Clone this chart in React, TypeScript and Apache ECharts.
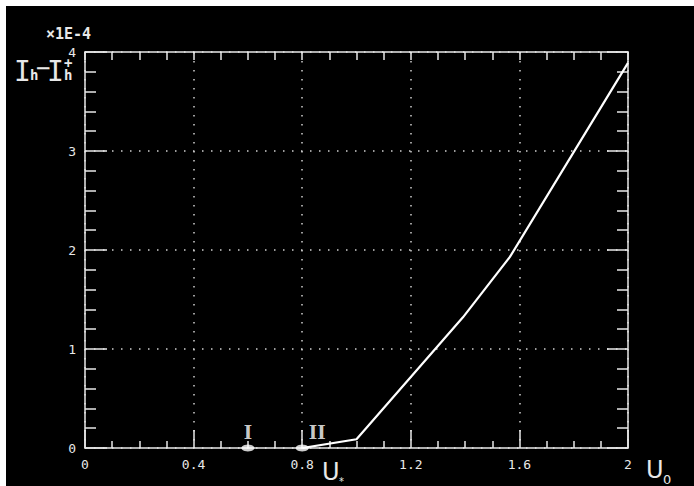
import React, { useEffect, useRef } from "react";
import * as echarts from "echarts";

const curveU = [0.8, 1.0, 1.392, 1.565, 2.0];
const curveI = [0, 0.088, 1.32, 1.93, 3.89];
const pointU = [0.6, 0.8];
const pointI = [0, 0];
const pointNames = ["I", "II"];
const xTickLabels = ["0", "0.4", "0.8", "1.2", "1.6", "2"];
const yTickLabels = ["0", "1", "2", "3", "4"];

const FG = "#e8e8e8";
const MONO = "DejaVu Sans Mono";

export default function App() {
  const ref = useRef<HTMLDivElement>(null);
  useEffect(() => {
    if (!ref.current) return;
    const chart = echarts.init(ref.current, null, { renderer: "svg" });
    const xLabel = (v: number) => {
      const i = Math.round(v / 0.4);
      return Math.abs(v - i * 0.4) < 1e-6 ? xTickLabels[i] ?? "" : "";
    };
    const yLabel = (v: number) => yTickLabels[Math.round(v)] ?? "";
    const dotted = { color: "#d0d0d0", width: 1.5, type: [1.5, 7.5] as any };
    chart.setOption({
      animation: false,
      backgroundColor: "#000",
      grid: { left: 79, top: 46, width: 543, height: 396 },
      xAxis: [
        {
          type: "value", position: "bottom", min: 0, max: 2, interval: 0.4,
          axisLine: { onZero: false, lineStyle: { color: FG, width: 1.5 } },
          axisTick: { inside: true, length: 18, lineStyle: { color: FG, width: 1.5 } },
          minorTick: { show: true, splitNumber: 4, length: 7, lineStyle: { color: FG, width: 1.5 } },
          axisLabel: { formatter: xLabel, color: FG, fontFamily: MONO, fontSize: 13, margin: 10 },
          splitLine: { show: true, lineStyle: dotted },
        },
        {
          type: "value", position: "top", min: 0, max: 2, interval: 0.1,
          axisLine: { onZero: false, lineStyle: { color: FG, width: 1.5 } },
          axisTick: { inside: true, length: 8, lineStyle: { color: FG, width: 1.5 } },
          axisLabel: { show: false },
          splitLine: { show: false },
        },
      ],
      yAxis: [
        {
          type: "value", position: "left", min: 0, max: 4, interval: 1,
          axisLine: { show: true, onZero: false, lineStyle: { color: FG, width: 1.5 } },
          axisTick: { show: true, inside: true, length: 22, lineStyle: { color: FG, width: 1.5 } },
          minorTick: { show: true, splitNumber: 5, length: 11, lineStyle: { color: FG, width: 1.5 } },
          axisLabel: { formatter: yLabel, color: FG, fontFamily: MONO, fontSize: 13, margin: 9 },
          splitLine: { show: true, lineStyle: dotted },
        },
        {
          type: "value", position: "right", min: 0, max: 4, interval: 1,
          axisLine: { show: true, onZero: false, lineStyle: { color: FG, width: 1.5 } },
          axisTick: { show: true, inside: true, length: 21, lineStyle: { color: FG, width: 1.5 } },
          minorTick: { show: true, splitNumber: 5, length: 11, lineStyle: { color: FG, width: 1.5 } },
          axisLabel: { show: false },
          splitLine: { show: false },
        },
      ],
      series: [
        {
          type: "line",
          data: curveU.map((u, i) => [u, curveI[i]]),
          showSymbol: false,
          lineStyle: { color: "#fff", width: 2.2 },
        },
        {
          type: "scatter",
          data: pointU.map((u, i) => ({
            value: [u, pointI[i]],
            name: pointNames[i],
            label: { offset: i === 1 ? [15, 0] : [0, 0] },
          })),
          symbol: "circle",
          symbolSize: [13, 7],
          itemStyle: { color: "#fff" },
          label: {
            show: true, position: "top", distance: 3,
            formatter: (p: any) => p.name,
            color: "#ffffff", fontFamily: "DejaVu Serif", fontWeight: "bold", fontSize: 18,
            textBorderWidth: 0, textBorderColor: "transparent",
          },
          z: 5,
        },
      ],
      graphic: [
        { type: "text", x: 40, y: 20, style: { text: "×1E-4", fill: FG, font: `bold 15px "${MONO}"` } },
        { type: "text", x: 8, y: 51, style: { text: "I", fill: FG, font: `28px "${MONO}"` } },
        { type: "text", x: 24, y: 62, style: { text: "h", fill: FG, font: `bold 14px "${MONO}"` } },
        { type: "text", x: 30, y: 50, style: { text: "−", fill: FG, font: `24px "${MONO}"` } },
        { type: "text", x: 41, y: 51, style: { text: "I", fill: FG, font: `28px "${MONO}"` } },
        { type: "text", x: 58, y: 50, style: { text: "+", fill: FG, font: `bold 14px "${MONO}"` } },
        { type: "text", x: 58, y: 62, style: { text: "h", fill: FG, font: `bold 14px "${MONO}"` } },
        { type: "text", x: 316, y: 454, style: { text: "U", fill: FG, font: `24px "DejaVu Sans"` } },
        { type: "text", x: 333, y: 470, style: { text: "*", fill: FG, font: `10px "DejaVu Sans"` } },
        { type: "text", x: 640, y: 452, style: { text: "U", fill: FG, font: `24px "DejaVu Sans"` } },
        { type: "text", x: 657, y: 467, style: { text: "0", fill: FG, font: `13px "DejaVu Sans"` } },
      ],
    });
    return () => chart.dispose();
  }, []);
  return (
    <div
      ref={ref}
      style={{ position: "absolute", left: 6, top: 6, width: 688, height: 480, background: "#000" }}
    />
  );
}
